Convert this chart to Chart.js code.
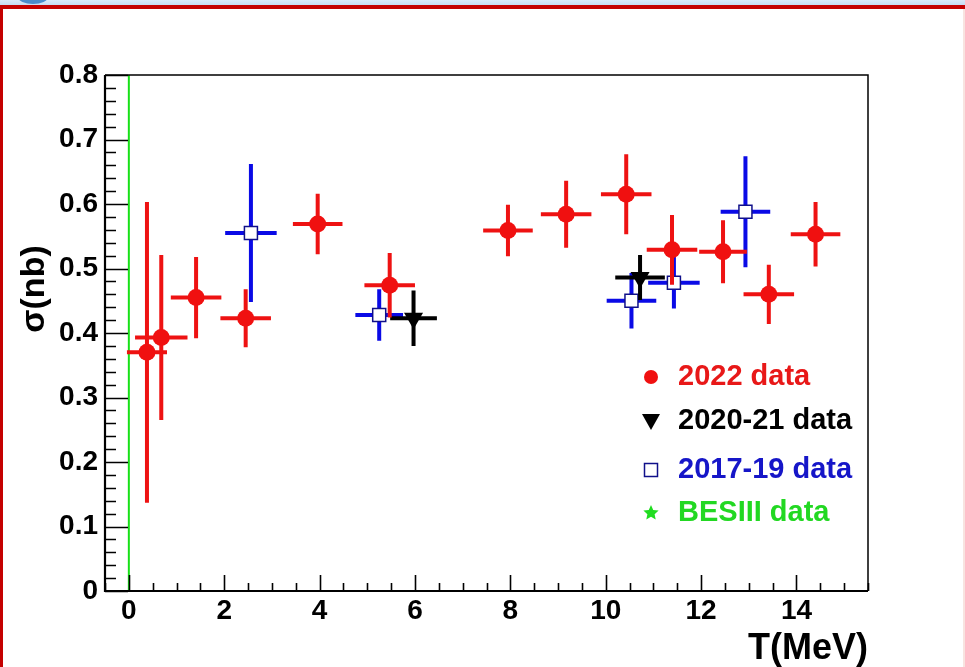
<!DOCTYPE html>
<html><head><meta charset="utf-8">
<script src="https://cdn.jsdelivr.net/npm/chart.js@4.4.0/dist/chart.umd.min.js"></script>
<style>
html,body{margin:0;padding:0;background:#fff;}
#wrap{position:relative;width:965px;height:667px;overflow:hidden;background:#fff;}
#c{position:absolute;left:0;top:0;}
#hdr{position:absolute;left:0;top:0;width:965px;height:5px;background:linear-gradient(#dbe9f8,#c6dcf2);}
#bubble{position:absolute;left:18px;top:-10px;width:30px;height:14px;border-radius:50%;background:#4a8ccc;}
#bar{position:absolute;left:0;top:5px;width:965px;height:4px;background:#c40000;}
#lft{position:absolute;left:0;top:5px;width:3px;height:662px;background:#c40000;}
#rgt{position:absolute;right:0;top:9px;width:2px;height:658px;background:#f8e4e0;}
</style></head>
<body>
<div id="wrap">
<canvas id="c" width="965" height="667"></canvas>
<div id="hdr"></div><div id="bubble"></div><div id="bar"></div><div id="lft"></div><div id="rgt"></div>
</div>
<script>
// ---- data ----
const t2022    = [0.38, 0.68, 1.41, 2.45, 3.96, 5.47, 7.95, 9.17, 10.43, 11.39, 12.46, 13.42, 14.40];
const sig2022  = [0.370, 0.393, 0.455, 0.423, 0.569, 0.474, 0.559, 0.584, 0.615, 0.529, 0.526, 0.460, 0.553];
const dT2022   = [0.42, 0.55, 0.53, 0.53, 0.52, 0.53, 0.52, 0.53, 0.53, 0.53, 0.50, 0.53, 0.52];
const dSig2022 = [0.233, 0.128, 0.063, 0.045, 0.047, 0.050, 0.040, 0.052, 0.062, 0.054, 0.049, 0.046, 0.050];

const t2020    = [5.97, 10.72];
const sig2020  = [0.423, 0.486];
const dT2020   = [0.49, 0.52];
const dSig2020 = [0.043, 0.035];

const t2017    = [2.56, 5.25, 10.54, 11.43, 12.93];
const sig2017  = [0.555, 0.428, 0.450, 0.478, 0.588];
const dT2017   = [0.54, 0.50, 0.52, 0.54, 0.52];
const dSig2017 = [0.107, 0.040, 0.043, 0.040, 0.086];

const tBES     = [0, 0];
const sigBES   = [0, 0.8];

const xTicks = [0, 2, 4, 6, 8, 10, 12, 14];
const xTickLabels = ['0', '2', '4', '6', '8', '10', '12', '14'];
const yTicks = [0, 0.1, 0.2, 0.3, 0.4, 0.5, 0.6, 0.7, 0.8];
const yTickLabels = ['0', '0.1', '0.2', '0.3', '0.4', '0.5', '0.6', '0.7', '0.8'];
const legendLabels = ['2022 data', '2020-21 data', '2017-19 data', 'BESIII data'];
const xTitle = 'T(MeV)';
const yTitle = 'σ(nb)';

const FAM = '"Liberation Sans", Arial, Helvetica, sans-serif';
function pts(xs, ys) { return xs.map((x, i) => ({x: x, y: ys[i]})); }

const errPlugin = {
  id: 'errbars',
  beforeDatasetDraw(chart, args) {
    const ds = chart.data.datasets[args.index];
    if (!ds.errY) return;
    const xs = chart.scales.x, ys = chart.scales.y, ctx = chart.ctx;
    ctx.save();
    ctx.strokeStyle = ds.barColor; ctx.lineWidth = 4; ctx.lineCap = 'butt';
    ds.data.forEach((p, i) => {
      const px = xs.getPixelForValue(p.x), py = ys.getPixelForValue(p.y);
      ctx.beginPath();
      ctx.moveTo(xs.getPixelForValue(p.x - ds.errX[i]), py);
      ctx.lineTo(xs.getPixelForValue(p.x + ds.errX[i]), py);
      ctx.moveTo(px, ys.getPixelForValue(p.y - ds.errY[i]));
      ctx.lineTo(px, ys.getPixelForValue(p.y + ds.errY[i]));
      ctx.stroke();
    });
    ctx.restore();
  }
};

function star(ctx, cx, cy, ro, ri) {
  ctx.beginPath();
  for (let k = 0; k < 10; k++) {
    const r = k % 2 ? ri : ro;
    const a = -Math.PI / 2 + k * Math.PI / 5;
    const px = cx + r * Math.cos(a), py = cy + r * Math.sin(a);
    if (k === 0) ctx.moveTo(px, py); else ctx.lineTo(px, py);
  }
  ctx.closePath(); ctx.fill();
}

const framePlugin = {
  id: 'frame',
  afterDatasetsDraw(chart) {
    const {ctx, chartArea: a, scales: {x, y}} = chart;
    ctx.save();
    ctx.strokeStyle = '#000';
    ctx.lineWidth = 1.5;
    ctx.beginPath();
    ctx.moveTo(a.left, a.top); ctx.lineTo(a.right, a.top); ctx.lineTo(a.right, a.bottom);
    ctx.stroke();
    ctx.lineWidth = 2.2;
    ctx.beginPath();
    ctx.moveTo(a.left, a.top); ctx.lineTo(a.left, a.bottom); ctx.lineTo(a.right, a.bottom);
    ctx.stroke();
    ctx.lineWidth = 1.6;
    ctx.beginPath();
    for (let k = 0; k <= 40; k++) {
      const v = k * 0.02;
      const py = Math.round(y.getPixelForValue(v)) + 0.5;
      const len = (k % 5 === 0) ? 23 : 11;
      ctx.moveTo(a.left, py); ctx.lineTo(a.left + len, py);
    }
    for (let k = -1; k <= 31; k++) {
      const v = k * 0.5;
      const px = Math.round(x.getPixelForValue(v)) + 0.5;
      const len = (k % 4 === 0) ? 16 : 8;
      ctx.moveTo(px, a.bottom); ctx.lineTo(px, a.bottom - len);
    }
    ctx.stroke();
    ctx.restore();
  },
  afterDraw(chart) {
    const ctx = chart.ctx;
    ctx.save();
    ctx.translate(35, 289);
    ctx.rotate(-Math.PI / 2);
    ctx.font = 'bold 34px ' + FAM;
    ctx.fillStyle = '#000';
    ctx.textAlign = 'center'; ctx.textBaseline = 'middle';
    ctx.fillText(yTitle, 0, 0);
    ctx.restore();

    ctx.save();
    const rows = [377, 421, 470, 513];
    const mx = 651, tx = 678;
    const ds = chart.data.datasets;
    ctx.font = 'bold 29px ' + FAM;
    ctx.textBaseline = 'middle'; ctx.textAlign = 'left';
    ds.forEach((d, i) => {
      const yy = rows[i];
      ctx.fillStyle = d.legendColor;
      ctx.fillText(d.label, tx, yy);
      if (i === 0) {
        ctx.fillStyle = '#f01010';
        ctx.beginPath(); ctx.arc(mx, yy, 7, 0, Math.PI * 2); ctx.fill();
      } else if (i === 1) {
        ctx.fillStyle = '#000';
        ctx.beginPath(); ctx.moveTo(mx - 9, yy - 7); ctx.lineTo(mx + 9, yy - 7); ctx.lineTo(mx, yy + 9); ctx.closePath(); ctx.fill();
      } else if (i === 2) {
        ctx.strokeStyle = '#10108a'; ctx.lineWidth = 1.5;
        ctx.strokeRect(mx - 6.5, yy - 6.5, 13, 13);
      } else {
        ctx.fillStyle = '#20dd20';
        star(ctx, mx, yy, 8, 3.8);
      }
    });
    ctx.restore();
  }
};

const tickFont = {family: FAM, size: 28, weight: 'bold'};

new Chart(document.getElementById('c'), {
  type: 'scatter',
  data: {
    datasets: [
      {label: legendLabels[0], data: pts(t2022, sig2022), errX: dT2022, errY: dSig2022,
       barColor: '#ee1212', legendColor: '#e81818',
       pointStyle: 'circle', pointRadius: 8.5, backgroundColor: '#f01010', borderColor: '#f01010', borderWidth: 0},
      {label: legendLabels[1], data: pts(t2020, sig2020), errX: dT2020, errY: dSig2020,
       barColor: '#000', legendColor: '#000',
       pointStyle: 'triangle', rotation: 180, pointRadius: 11, backgroundColor: '#000', borderColor: '#000', borderWidth: 0},
      {label: legendLabels[2], data: pts(t2017, sig2017), errX: dT2017, errY: dSig2017,
       barColor: '#0a0ae6', legendColor: '#1616c8',
       pointStyle: 'rect', pointRadius: 9.2, backgroundColor: '#fff', borderColor: '#10108a', borderWidth: 1.5},
      {label: legendLabels[3], data: pts(tBES, sigBES), showLine: true, legendColor: '#22d822',
       borderColor: '#18e018', borderWidth: 2, pointRadius: 0, backgroundColor: '#18e018'}
    ]
  },
  options: {
    responsive: false, animation: false, devicePixelRatio: 1,
    layout: {padding: {left: 0, top: 75, right: 97, bottom: 0}},
    plugins: {legend: {display: false}, tooltip: {enabled: false}},
    scales: {
      x: {
        type: 'linear', min: -0.5, max: 15.5,
        afterBuildTicks: s => { s.ticks = xTicks.map(v => ({value: v})); },
        afterFit: s => { s.height = 76; },
        grid: {display: false, drawTicks: false},
        border: {display: false},
        ticks: {padding: 3, color: '#000', font: tickFont, maxRotation: 0, autoSkip: false,
                callback: (v, i) => xTickLabels[i]},
        title: {display: true, text: xTitle, align: 'end', color: '#000',
                font: {family: FAM, size: 36, weight: 'bold', lineHeight: 1}, padding: {top: 0, bottom: 0}}
      },
      y: {
        type: 'linear', min: 0, max: 0.8,
        afterBuildTicks: s => { s.ticks = yTicks.map(v => ({value: v})); },
        afterFit: s => { s.width = 105; },
        grid: {display: false, drawTicks: false},
        border: {display: false},
        ticks: {padding: 7, color: '#000', font: tickFont, autoSkip: false,
                callback: (v, i) => yTickLabels[i]}
      }
    }
  },
  plugins: [errPlugin, framePlugin]
});
</script>
</body></html>
